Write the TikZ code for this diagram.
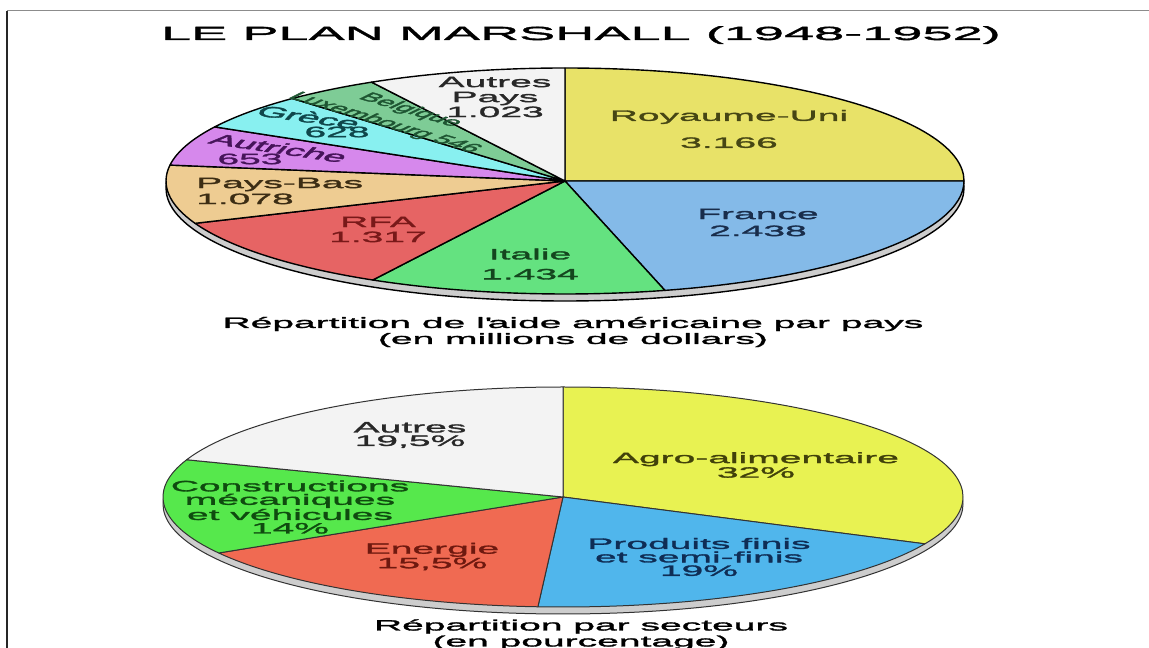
\documentclass[tikz,border=0pt]{standalone}
\usepackage{fontspec}
\setmainfont{Liberation Sans}[FakeStretch=2.6, FakeBold=2]
\newfontfamily\titlefont{Liberation Sans}[FakeStretch=2.85, FakeBold=2]
\newfontfamily\plainsans{Liberation Sans}[FakeBold=2]
\definecolor{rimGray}{RGB}{205,205,205}
\definecolor{ruFill}{RGB}{232,226,104}\definecolor{ruText}{RGB}{70,70,20}
\definecolor{frFill}{RGB}{132,186,232}\definecolor{frText}{RGB}{25,45,75}
\definecolor{itFill}{RGB}{100,226,128}\definecolor{itText}{RGB}{20,70,30}
\definecolor{rfaFill}{RGB}{230,100,100}\definecolor{rfaText}{RGB}{120,25,25}
\definecolor{pbFill}{RGB}{238,204,146}\definecolor{pbText}{RGB}{60,45,20}
\definecolor{atFill}{RGB}{214,136,236}\definecolor{atText}{RGB}{70,20,90}
\definecolor{grFill}{RGB}{136,240,240}\definecolor{grText}{RGB}{15,70,75}
\definecolor{beFill}{RGB}{126,204,150}\definecolor{beText}{RGB}{30,85,50}
\definecolor{apFill}{RGB}{243,243,243}\definecolor{apText}{RGB}{40,40,40}
\definecolor{agFill}{RGB}{232,242,82}\definecolor{agText}{RGB}{65,65,10}
\definecolor{prFill}{RGB}{80,182,236}\definecolor{prText}{RGB}{15,45,85}
\definecolor{enFill}{RGB}{240,106,82}\definecolor{enText}{RGB}{110,25,15}
\definecolor{coFill}{RGB}{86,232,76}\definecolor{coText}{RGB}{15,75,15}
\begin{document}
\begin{tikzpicture}[x=1pt, y=1pt, line join=round,
	slice/.style={draw=black, line width=1.4pt},
	sliceb/.style={draw=black!80, line width=1pt},
	lab/.style={align=center, inner sep=0pt, font=\fontsize{15}{15}\selectfont},
	labb/.style={align=center, inner sep=0pt, font=\fontsize{15}{13.5}\selectfont},
	tilt/.style={align=center, inner sep=0pt, transform shape, font=\plainsans\fontsize{15}{15}\selectfont},
	caption/.style={align=center, inner sep=0pt, font=\fontsize{15}{16}\selectfont}]
		\useasboundingbox (0,0) rectangle (1149,648);

		% cadre
		\coordinate (cornerTL) at (7,637);
		\draw[black!45, line width=1pt] (cornerTL) -- (1149,637);
		\draw[black!85, line width=2pt] (cornerTL) -- (7,0);

		\node[anchor=base, inner sep=0pt, font=\titlefont\fontsize{19}{19}\selectfont](title) at (581,608){LE PLAN MARSHALL (1948-1952)};

		% aide par pays
		\coordinate (pie1) at (565,467);
		\filldraw[fill=rimGray, slice] ([yshift=-7pt]pie1) ellipse[x radius=399pt, y radius=113pt];
		\filldraw[fill=ruFill, slice] (pie1) -- ++(90:399 and 113) arc[start angle=90, end angle=0, x radius=399pt, y radius=113pt] -- cycle;
		\filldraw[fill=frFill, slice] (pie1) -- ++(0:399 and 113) arc[start angle=0, end angle=-75.5, x radius=399pt, y radius=113pt] -- cycle;
		\filldraw[fill=itFill, slice] (pie1) -- ++(-75.5:399 and 113) arc[start angle=-75.5, end angle=-118.8, x radius=399pt, y radius=113pt] -- cycle;
		\filldraw[fill=rfaFill, slice] (pie1) -- ++(-118.8:399 and 113) arc[start angle=-118.8, end angle=-158, x radius=399pt, y radius=113pt] -- cycle;
		\filldraw[fill=pbFill, slice] (pie1) -- ++(-158:399 and 113) arc[start angle=-158, end angle=-188.1, x radius=399pt, y radius=113pt] -- cycle;
		\filldraw[fill=atFill, slice] (pie1) -- ++(-188.1:399 and 113) arc[start angle=-188.1, end angle=-208.6, x radius=399pt, y radius=113pt] -- cycle;
		\filldraw[fill=grFill, slice] (pie1) -- ++(-208.6:399 and 113) arc[start angle=-208.6, end angle=-226.9, x radius=399pt, y radius=113pt] -- cycle;
		\filldraw[fill=beFill, slice] (pie1) -- ++(-226.9:399 and 113) arc[start angle=-226.9, end angle=-241, x radius=399pt, y radius=113pt] -- cycle;
		\filldraw[fill=apFill, slice] (pie1) -- ++(-241:399 and 113) arc[start angle=-241, end angle=-270, x radius=399pt, y radius=113pt] -- cycle;

		\node[lab, text=ruText](ruLabel) at (729,519){Royaume-Uni\\[12pt]3.166};
		\node[lab, text=frText](franceLabel) at (758,425.5){France\\[2pt]2.438};
		\node[lab, text=itText](italieLabel) at (530,384){Italie\\[5pt]1.434};
		\node[lab, text=rfaText](rfaLabel) at (378,418.5){RFA\\1.317};
		\node[lab, align=left, anchor=west, text=pbText](paysBasLabel) at (196,457){Pays-Bas\\[1pt]1.078};
		\node[lab, text=apText](autresPaysLabel) at (495,551){Autres\\Pays\\1.023};
		\node[lab, text=atText](autricheVal) at (250,489){653};
		\node[lab, text=grText](greceVal) at (337,516){628};
		\begin{scope}[shift={(279,500)}, xscale=2.6]
			\node[tilt, rotate=-21, text=atText](autricheLabel) at (0,0){Autriche};
		\end{scope}
		\begin{scope}[shift={(309,531)}, xscale=2.6]
			\node[tilt, rotate=-20, text=grText](greceLabel) at (0,0){Grèce};
		\end{scope}
		\begin{scope}[shift={(397.5,531.5)}, xscale=2.6]
			\node[tilt, rotate=-38, text=beText, font=\plainsans\fontsize{12}{16}\selectfont](belgiqueLabel) at (0,0){Belgique\\Luxembourg 546};
		\end{scope}

		\node[caption](caption1) at (573,316){Répartition de l\textquotesingle aide américaine par pays\\(en millions de dollars)};

		% aide par secteurs
		\coordinate (pie2) at (563,151);
		\filldraw[fill=rimGray, sliceb] ([yshift=-7pt]pie2) ellipse[x radius=400pt, y radius=110pt];
		\filldraw[fill=agFill, sliceb] (pie2) -- ++(90:400 and 110) arc[start angle=90, end angle=-25.2, x radius=400pt, y radius=110pt] -- cycle;
		\filldraw[fill=prFill, sliceb] (pie2) -- ++(-25.2:400 and 110) arc[start angle=-25.2, end angle=-93.6, x radius=400pt, y radius=110pt] -- cycle;
		\filldraw[fill=enFill, sliceb] (pie2) -- ++(-93.6:400 and 110) arc[start angle=-93.6, end angle=-149.4, x radius=400pt, y radius=110pt] -- cycle;
		\filldraw[fill=coFill, sliceb] (pie2) -- ++(-149.4:400 and 110) arc[start angle=-149.4, end angle=-199.8, x radius=400pt, y radius=110pt] -- cycle;
		\filldraw[fill=apFill, sliceb] (pie2) -- ++(-199.8:400 and 110) arc[start angle=-199.8, end angle=-270, x radius=400pt, y radius=110pt] -- cycle;

		\node[labb, text=apText](autresLabel) at (410,213){Autres\\19,5\%};
		\node[labb, text=agText](agroLabel) at (756,183){Agro-alimentaire\\32\%};
		\node[labb, text=prText](produitsLabel) at (699,91){Produits finis\\et semi-finis\\19\%};
		\node[labb, text=enText](energieLabel) at (432,91.5){Energie\\15,5\%};
		\node[labb, text=coText](constructionsLabel) at (290,141){Constructions\\mécaniques\\et véhicules\\14\%};

		\node[caption](caption2) at (581,13.5){Répartition par secteurs\\(en pourcentage)};
\end{tikzpicture}
\end{document}
